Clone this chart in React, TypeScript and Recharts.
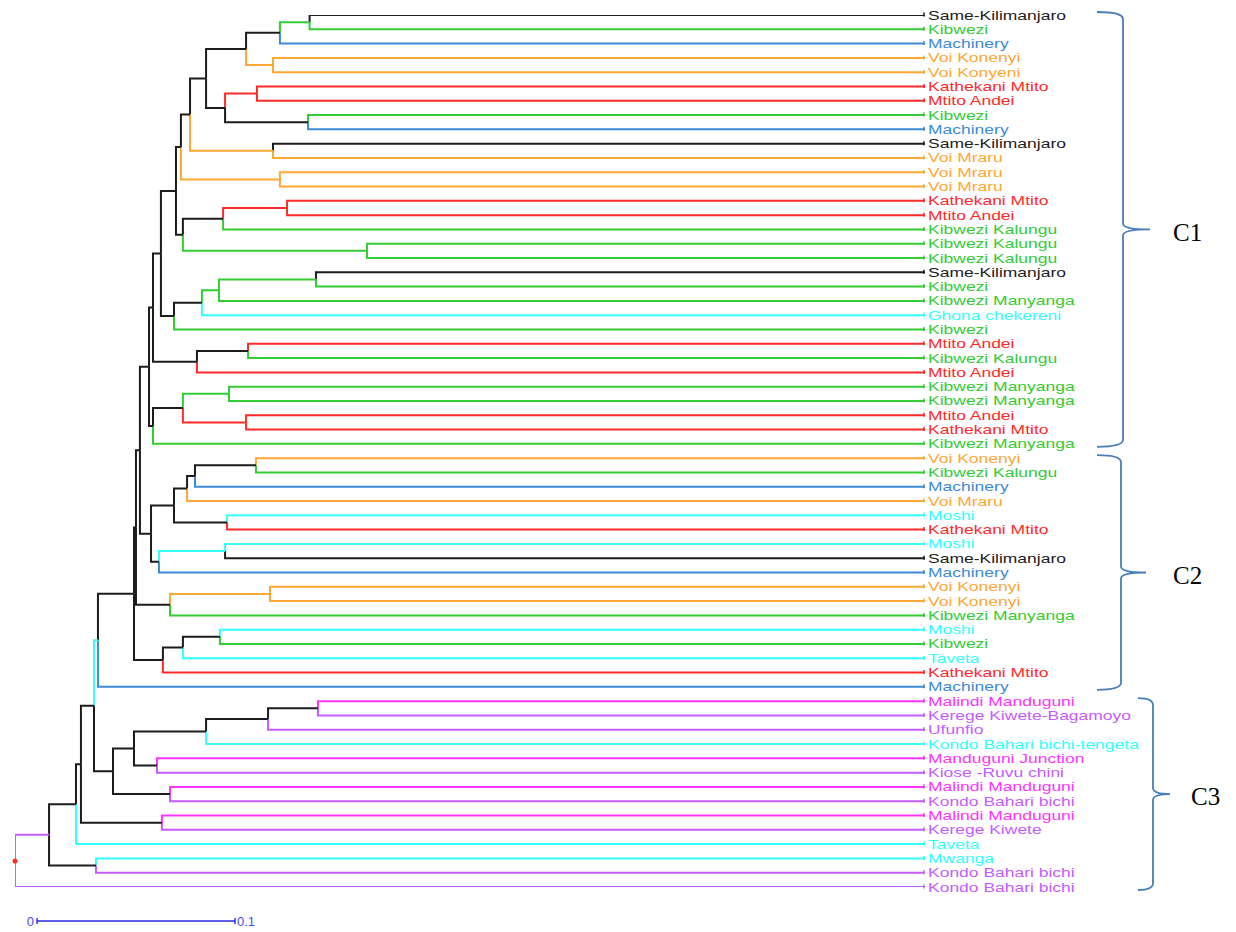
import { LineChart, Line, XAxis, YAxis, ReferenceDot } from 'recharts';

// leaves, top to bottom
const LEAF_LABELS = [
  'Same-Kilimanjaro', 'Kibwezi', 'Machinery', 'Voi Konenyi', 'Voi Konyeni',
  'Kathekani Mtito', 'Mtito Andei', 'Kibwezi', 'Machinery', 'Same-Kilimanjaro',
  'Voi Mraru', 'Voi Mraru', 'Voi Mraru', 'Kathekani Mtito', 'Mtito Andei',
  'Kibwezi Kalungu', 'Kibwezi Kalungu', 'Kibwezi Kalungu', 'Same-Kilimanjaro', 'Kibwezi',
  'Kibwezi Manyanga', 'Ghona chekereni', 'Kibwezi', 'Mtito Andei', 'Kibwezi Kalungu',
  'Mtito Andei', 'Kibwezi Manyanga', 'Kibwezi Manyanga', 'Mtito Andei', 'Kathekani Mtito',
  'Kibwezi Manyanga', 'Voi Konenyi', 'Kibwezi Kalungu', 'Machinery', 'Voi Mraru',
  'Moshi', 'Kathekani Mtito', 'Moshi', 'Same-Kilimanjaro', 'Machinery',
  'Voi Konenyi', 'Voi Konenyi', 'Kibwezi Manyanga', 'Moshi', 'Kibwezi',
  'Taveta', 'Kathekani Mtito', 'Machinery', 'Malindi Manduguni', 'Kerege Kiwete-Bagamoyo',
  'Ufunfio', 'Kondo Bahari bichi-tengeta', 'Manduguni Junction', 'Kiose -Ruvu chini', 'Malindi Manduguni',
  'Kondo Bahari bichi', 'Malindi Manduguni', 'Kerege Kiwete', 'Taveta', 'Mwanga',
  'Kondo Bahari bichi', 'Kondo Bahari bichi',
];

const LEAF_GROUPS = [
  'black', 'green', 'blue', 'orange', 'orange',
  'red', 'red', 'green', 'blue', 'black',
  'orange', 'orange', 'orange', 'red', 'red',
  'green', 'green', 'green', 'black', 'green',
  'green', 'cyan', 'green', 'red', 'green',
  'red', 'green', 'green', 'red', 'red',
  'green', 'orange', 'green', 'blue', 'orange',
  'cyan', 'red', 'cyan', 'black', 'blue',
  'orange', 'orange', 'green', 'cyan', 'green',
  'cyan', 'red', 'blue', 'magenta', 'purple',
  'purple', 'cyan', 'magenta', 'purple', 'magenta',
  'purple', 'magenta', 'purple', 'cyan', 'cyan',
  'purple', 'purple',
];

// [node, child, child, distance from root]; numbers are leaf indices
const MERGES: [string, number | string, number | string, number][] = [
  ['n1', 0, 1, 0.1488],
  ['n2', 'n1', 2, 0.1338],
  ['n3', 3, 4, 0.1303],
  ['n4', 'n2', 'n3', 0.1167],
  ['n5', 5, 6, 0.1222],
  ['n6', 7, 8, 0.148],
  ['n7', 'n5', 'n6', 0.1061],
  ['n8', 'n4', 'n7', 0.0965],
  ['n9', 9, 10, 0.1303],
  ['n10', 'n8', 'n9', 0.0884],
  ['n11', 11, 12, 0.1338],
  ['n12', 'n10', 'n11', 0.0838],
  ['n13', 13, 14, 0.1374],
  ['n14', 'n13', 15, 0.1051],
  ['n16', 16, 17, 0.1778],
  ['n15', 'n14', 'n16', 0.0848],
  ['n17', 'n12', 'n15', 0.0813],
  ['n22', 18, 19, 0.152],
  ['n21', 'n22', 20, 0.103],
  ['n20', 'n21', 21, 0.0944],
  ['n19', 'n20', 22, 0.0803],
  ['n18', 'n17', 'n19', 0.0737],
  ['n25', 23, 24, 0.1177],
  ['n24', 'n25', 25, 0.0919],
  ['n23', 'n18', 'n24', 0.0697],
  ['n29', 26, 27, 0.1081],
  ['n30', 28, 29, 0.1167],
  ['n28', 'n29', 'n30', 0.0848],
  ['n27', 'n28', 30, 0.0697],
  ['n26', 'n23', 'n27', 0.0677],
  ['n33', 31, 32, 0.1217],
  ['n32', 'n33', 33, 0.0909],
  ['n34', 'n32', 34, 0.0869],
  ['n36', 35, 36, 0.1071],
  ['n35', 'n34', 'n36', 0.0803],
  ['n39', 37, 38, 0.1061],
  ['n38', 'n39', 39, 0.0727],
  ['n37', 'n35', 'n38', 0.0687],
  ['n31', 'n26', 'n37', 0.0631],
  ['n44', 40, 41, 0.1288],
  ['n41', 'n44', 42, 0.0783],
  ['n40', 'n31', 'n41', 0.0611],
  ['n46', 43, 44, 0.1035],
  ['n45', 'n46', 45, 0.0848],
  ['n42', 'n45', 46, 0.0747],
  ['n43', 'n40', 'n42', 0.0601],
  ['n47', 'n43', 47, 0.0419],
  ['n56', 48, 49, 0.153],
  ['n55', 'n56', 50, 0.1278],
  ['n53', 'n55', 51, 0.0965],
  ['n54', 52, 53, 0.0717],
  ['n51', 'n53', 'n54', 0.0601],
  ['n52', 54, 55, 0.0783],
  ['n50', 'n51', 'n52', 0.0495],
  ['n48', 'n47', 'n50', 0.0399],
  ['n58', 56, 57, 0.0742],
  ['n57', 'n48', 'n58', 0.0333],
  ['n59', 'n57', 58, 0.0308],
  ['n61', 59, 60, 0.0409],
  ['n60', 'n59', 'n61', 0.0172],
  ['root', 'n60', 61, 0],
];

// colour of the branch leading to an internal node (black if not listed)
const EDGE_GROUPS: Record<string, string> = {
  n1: 'green', n3: 'orange', n5: 'red', n9: 'orange', n11: 'orange', n13: 'red',
  n16: 'green', n22: 'green', n21: 'green', n29: 'green', n30: 'red', n39: 'cyan',
  n44: 'orange', n47: 'cyan', n60: 'purple',
};

const CLUSTERS = [
  { name: 'C1', first: 0, last: 30 },
  { name: 'C2', first: 31, last: 47 },
  { name: 'C3', first: 48, last: 61 },
];

const TIP_DISTANCE = 0.4596;
const SCALE_BAR = 0.1;

const PALETTE: Record<string, string> = {
  black: '#1c1c1c',
  green: '#33cc33',
  blue: '#3d8ad6',
  orange: '#ffa733',
  red: '#ff2a2a',
  cyan: '#33ffff',
  magenta: '#ff33ff',
  purple: '#c45cff',
};

const W = 1236;
const H = 932;
const MARGIN = { top: 15, right: 0, bottom: 45, left: 15 };
const LABEL_W = 311;
const plotW = W - MARGIN.left - MARGIN.right - LABEL_W;
const plotH = H - MARGIN.top - MARGIN.bottom;
const pxPerUnit = plotW / TIP_DISTANCE;
const leafPx = (i: number) => MARGIN.top + (i / (LEAF_LABELS.length - 1)) * plotH;

type Pos = { h: number; y: number };
const key = (c: number | string) => (typeof c === 'number' ? `L${c}` : c);

function buildEdges() {
  const pos: Record<string, Pos> = {};
  LEAF_LABELS.forEach((_, i) => {
    pos[`L${i}`] = { h: TIP_DISTANCE, y: i };
  });
  const edges: { id: string; color: string; pts: { x: number; y: number }[] }[] = [];
  for (const [id, a, b, h] of MERGES) {
    const y = (pos[key(a)].y + pos[key(b)].y) / 2;
    pos[id] = { h, y };
    for (const c of [a, b]) {
      const pc = pos[key(c)];
      const group = typeof c === 'number' ? LEAF_GROUPS[c] : EDGE_GROUPS[c] ?? 'black';
      edges.push({
        id: `${id}-${key(c)}`,
        color: PALETTE[group],
        pts: [
          { x: h, y },
          { x: h, y: pc.y },
          { x: pc.h, y: pc.y },
        ],
      });
    }
  }
  return { edges, rootY: pos.root.y };
}

const { edges, rootY } = buildEdges();

function LeafTick(props: any) {
  const { x, y, payload } = props;
  const i = payload.value as number;
  const color = PALETTE[LEAF_GROUPS[i]];
  return (
    <g>
      <line x1={x - 1} x2={x - 1} y1={y - 2.5} y2={y + 1.5} stroke={color} strokeWidth={1.5} />
      <text
        transform={`translate(${x + 3},${y}) scale(1.4,1)`}
        dy="0.36em"
        fontFamily="'Liberation Sans', Arial, sans-serif"
        fontSize={12.5}
        fill={color}
      >
        {LEAF_LABELS[i]}
      </text>
    </g>
  );
}

function bracketPath(x0: number, xs: number, xt: number, y0: number, y1: number) {
  const ym = (y0 + y1) / 2;
  return [
    `M${x0},${y0}`,
    `Q${xs},${y0} ${xs},${y0 + 7}`,
    `L${xs},${ym - 6}`,
    `Q${xs},${ym} ${xt},${ym}`,
    `Q${xs},${ym} ${xs},${ym + 6}`,
    `L${xs},${y1 - 7}`,
    `Q${xs},${y1} ${x0},${y1}`,
  ].join(' ');
}

const BRACKET_X = [
  { x0: 1097, xs: 1123, xt: 1150, label: 1173 },
  { x0: 1097, xs: 1121, xt: 1146, label: 1173 },
  { x0: 1138, xs: 1153, xt: 1170, label: 1191 },
];

export default function App() {
  const scaleLeft = 37;
  const scaleY = 921;
  return (
    <div style={{ position: 'absolute', left: 0, top: 0, width: W, height: H, background: '#fff' }}>
      <LineChart width={W} height={H} margin={MARGIN}>
        <XAxis type="number" dataKey="x" domain={[0, TIP_DISTANCE]} hide allowDataOverflow />
        <YAxis
          type="number"
          dataKey="y"
          orientation="right"
          reversed
          domain={[0, LEAF_LABELS.length - 1]}
          ticks={LEAF_LABELS.map((_, i) => i)}
          interval={0}
          axisLine={false}
          tickLine={false}
          tickSize={0}
          tickMargin={0}
          width={LABEL_W}
          tick={(p: any) => <LeafTick {...p} />}
          allowDataOverflow
        />
        {edges.map((e) => (
          <Line
            key={e.id}
            data={e.pts}
            dataKey="y"
            type="linear"
            stroke={e.color}
            strokeWidth={2}
            dot={false}
            activeDot={false}
            isAnimationActive={false}
          />
        ))}
        <ReferenceDot x={0} y={rootY} r={2.5} fill="#ff2a2a" stroke="none" ifOverflow="visible" />
      </LineChart>
      <svg
        width={W}
        height={H}
        style={{ position: 'absolute', left: 0, top: 0, pointerEvents: 'none' }}
      >
        {CLUSTERS.map((c, k) => {
          const b = BRACKET_X[k];
          const y0 = leafPx(c.first) - 3;
          const y1 = leafPx(c.last) + 3;
          return (
            <g key={c.name}>
              <path d={bracketPath(b.x0, b.xs, b.xt, y0, y1)} fill="none" stroke="#4a7ebb" strokeWidth={1.8} />
              <text
                x={b.label}
                y={(y0 + y1) / 2}
                dy="0.45em"
                fontFamily="'Liberation Serif', 'Times New Roman', serif"
                fontSize={25}
                fill="#000"
              >
                {c.name}
              </text>
            </g>
          );
        })}
        <line x1={scaleLeft} x2={scaleLeft + SCALE_BAR * pxPerUnit} y1={scaleY} y2={scaleY} stroke="#2a2ae6" strokeWidth={1.6} />
        <line x1={scaleLeft} x2={scaleLeft} y1={scaleY - 3} y2={scaleY + 3} stroke="#2a2ae6" strokeWidth={1.4} />
        <line
          x1={scaleLeft + SCALE_BAR * pxPerUnit}
          x2={scaleLeft + SCALE_BAR * pxPerUnit}
          y1={scaleY - 3}
          y2={scaleY + 3}
          stroke="#2a2ae6"
          strokeWidth={1.4}
        />
        <text x={scaleLeft - 3} y={scaleY} dy="0.35em" textAnchor="end" fontFamily="'Liberation Sans', Arial, sans-serif" fontSize={13} fill="#4a4af0">
          0
        </text>
        <text x={scaleLeft + SCALE_BAR * pxPerUnit + 2} y={scaleY} dy="0.35em" fontFamily="'Liberation Sans', Arial, sans-serif" fontSize={13} fill="#4a4af0">
          {SCALE_BAR}
        </text>
      </svg>
    </div>
  );
}
